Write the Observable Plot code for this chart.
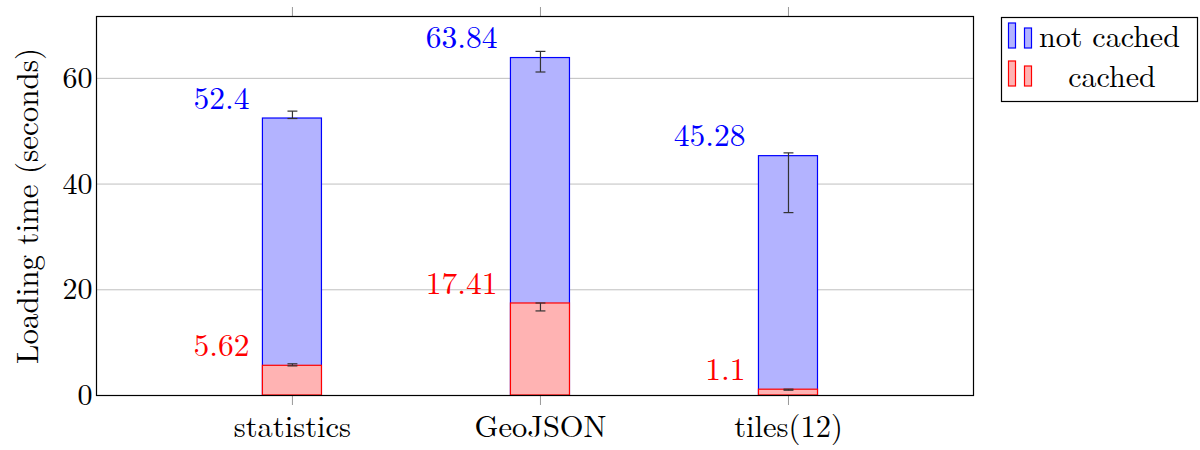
<!DOCTYPE html>
<html>
<head>
<meta charset="utf-8">
<script src="https://cdn.jsdelivr.net/npm/d3@7"></script>
<script src="https://cdn.jsdelivr.net/npm/@observablehq/plot@0.6"></script>
<style>
  body { margin: 0; background: white; }
  #wrap { position: relative; width: 1200px; height: 450px; font-family: "Latin Modern Roman", "Liberation Serif", serif; }
</style>
</head>
<body>
<div id="wrap"></div>
<script>
const categories = ["statistics", "GeoJSON", "tiles(12)"];
const notCached = [52.4, 63.84, 45.28];
const notCachedLow = [52.4, 61.2, 34.6];
const notCachedHigh = [53.8, 65.1, 45.9];
const cached = [5.62, 17.41, 1.1];
const cachedLow = [5.6, 16.0, 1.0];
const cachedHigh = [6.0, 17.5, 1.2];
const yTicks = [0, 20, 40, 60];
const seriesNames = ["not cached", "cached"];

const rows = categories.map((c, i) => ({
  i, c,
  nc: notCached[i], ncLo: notCachedLow[i], ncHi: notCachedHigh[i],
  ca: cached[i], caLo: cachedLow[i], caHi: cachedHigh[i]
}));

const half = 0.119;
const cap = 0.02;
const font = "Latin Modern Roman";

const chart = Plot.plot({
  width: 1200,
  height: 450,
  marginLeft: 96,
  marginRight: 227,
  marginTop: 16,
  marginBottom: 55,
  style: { fontFamily: font, fontSize: "30px", color: "black", background: "white" },
  x: { type: "linear", domain: [-0.79, 2.746] },
  y: { domain: [0, 71.7] },
  marks: [
    Plot.gridY(yTicks, { stroke: "#bfbfbf", strokeOpacity: 1 }),
    Plot.axisY(yTicks, { tickSize: 0, tickPadding: 4, fontSize: 30, fontFamily: font, label: null }),
    Plot.axisX([0, 1, 2], { anchor: "bottom", tickSize: 10, stroke: "#999", tickPadding: 10,
      tickFormat: i => categories[i], fontSize: 30.5, fontFamily: font, label: null }),
    Plot.axisX([0, 1, 2], { anchor: "top", tickSize: 10, stroke: "#999", tickFormat: () => "", label: null }),
    Plot.text(["Loading time (seconds)"], { frameAnchor: "left", rotate: -90, dx: -68,
      fontSize: 31, fontFamily: font, lineAnchor: "middle", textAnchor: "middle" }),
    Plot.rectY(rows, { x1: d => d.i - half, x2: d => d.i + half, y1: 0, y2: "nc",
      fill: "#b3b3ff", stroke: "#0000ff", strokeWidth: 1.2 }),
    Plot.rectY(rows, { x1: d => d.i - half, x2: d => d.i + half, y1: 0, y2: "ca",
      fill: "#ffb3b3", stroke: "#ff0000", strokeWidth: 1.2 }),
    // error bars
    Plot.link(rows, { x1: "i", x2: "i", y1: "ncLo", y2: "ncHi", stroke: "#333", strokeWidth: 1.2 }),
    Plot.link(rows, { x1: d => d.i - cap, x2: d => d.i + cap, y1: "ncLo", y2: "ncLo", stroke: "#333", strokeWidth: 1.2 }),
    Plot.link(rows, { x1: d => d.i - cap, x2: d => d.i + cap, y1: "ncHi", y2: "ncHi", stroke: "#333", strokeWidth: 1.2 }),
    Plot.link(rows, { x1: "i", x2: "i", y1: "caLo", y2: "caHi", stroke: "#333", strokeWidth: 1.2 }),
    Plot.link(rows, { x1: d => d.i - cap, x2: d => d.i + cap, y1: "caLo", y2: "caLo", stroke: "#333", strokeWidth: 1.2 }),
    Plot.link(rows, { x1: d => d.i - cap, x2: d => d.i + cap, y1: "caHi", y2: "caHi", stroke: "#333", strokeWidth: 1.2 }),
    // value labels
    Plot.text(rows, { x: "i", y: "nc", text: d => String(d.nc), fill: "#0000ff", fontFamily: font,
      textAnchor: "end", dx: -43, dy: -20, fontSize: 31.5 }),
    Plot.text(rows, { x: "i", y: "ca", text: d => String(d.ca), fill: "#ff0000", fontFamily: font,
      textAnchor: "end", dx: -43, dy: -20, fontSize: 31.5 }),
    Plot.frame({ stroke: "black", strokeWidth: 1.2 })
  ]
});

const wrap = document.getElementById("wrap");
wrap.appendChild(chart);

// legend
const lg = d3.create("svg")
  .attr("width", 1200).attr("height", 450)
  .style("position", "absolute").style("left", "0px").style("top", "0px");
lg.append("rect").attr("x", 1001.5).attr("y", 17.5).attr("width", 196).attr("height", 84)
  .attr("fill", "white").attr("stroke", "black").attr("stroke-width", 1.2);
const legendStyles = [
  { fill: "#b3b3ff", stroke: "#0000ff", y: 48, ty: 47, anchor: "start", tx: 1039 },
  { fill: "#ffb3b3", stroke: "#ff0000", y: 86, ty: 87, anchor: "middle", tx: 1112 }
];
seriesNames.forEach((name, k) => {
  const s = legendStyles[k];
  lg.append("rect").attr("x", 1008.5).attr("y", s.y - 25).attr("width", 7).attr("height", 25)
    .attr("fill", s.fill).attr("stroke", s.stroke).attr("stroke-width", 1.2);
  lg.append("rect").attr("x", 1024.5).attr("y", s.y - 20).attr("width", 7).attr("height", 20)
    .attr("fill", s.fill).attr("stroke", s.stroke).attr("stroke-width", 1.2);
  lg.append("text").attr("x", s.tx).attr("y", s.ty).attr("text-anchor", s.anchor)
    .attr("font-family", font).attr("font-size", 30).attr("fill", "black").text(name);
});
wrap.appendChild(lg.node());
</script>
</body>
</html>
